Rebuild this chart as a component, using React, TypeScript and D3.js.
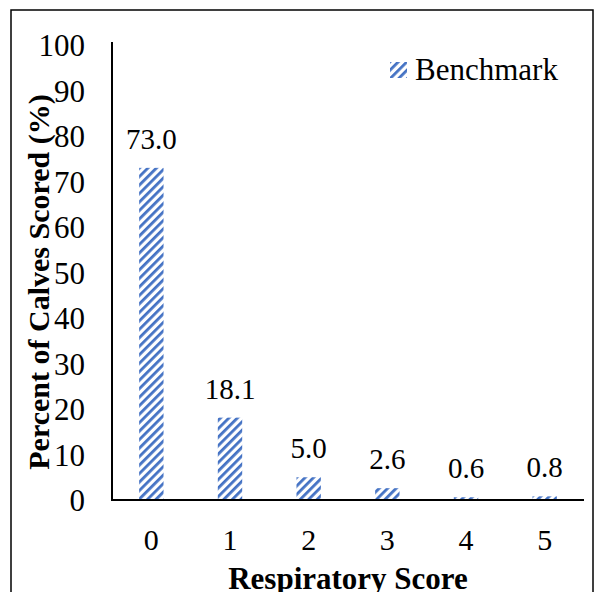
import * as React from "react";
import * as d3 from "d3";

// Respiratory score distribution, benchmark herd
const scores = ["0", "1", "2", "3", "4", "5"];
const benchmark = [73.0, 18.1, 5.0, 2.6, 0.6, 0.8];
const yTicks = [0, 10, 20, 30, 40, 50, 60, 70, 80, 90, 100];

const W = 594;
const H = 592;
const BLUE = "#4472C4";
const serif: React.CSSProperties = { fontFamily: '"Liberation Serif"' };

export default function App() {
  const x = d3
    .scaleBand<string>()
    .domain(scores)
    .range([112, 584])
    .paddingInner(0.69)
    .paddingOuter(0.345);
  const y = d3.scaleLinear().domain([0, 100]).range([500, 45]);

  return (
    <svg
      width={W}
      height={H}
      viewBox={`0 0 ${W} ${H}`}
      style={{ position: "absolute", left: 0, top: 0, background: "#fff" }}
    >
      <defs>
        <pattern
          id="wideUp"
          width={6}
          height={6}
          patternUnits="userSpaceOnUse"
          patternTransform="rotate(45)"
        >
          <rect width={6} height={6} fill="#fff" />
          <rect x={0} y={0} width={2.8} height={6} fill={BLUE} />
        </pattern>
      </defs>

      {/* outer chart frame */}
      <rect x={11} y={10} width={582} height={600} fill="none" stroke="#000" strokeWidth={1.5} />

      {/* bars */}
      {benchmark.map((v, i) => (
        <rect
          key={scores[i]}
          x={x(scores[i])}
          y={y(v)}
          width={x.bandwidth()}
          height={y(0) - y(v)}
          fill="url(#wideUp)"
        />
      ))}

      {/* value labels */}
      {benchmark.map((v, i) => (
        <text
          key={`l${i}`}
          x={(x(scores[i]) ?? 0) + x.bandwidth() / 2}
          y={y(v) - 19}
          textAnchor="middle"
          fontSize={29}
          fill="#000"
          style={serif}
        >
          {v.toFixed(1)}
        </text>
      ))}

      {/* axes lines */}
      <line x1={112} x2={112} y1={42} y2={501} stroke="#000" strokeWidth={2} />
      <line x1={111} x2={584} y1={500} y2={500} stroke="#000" strokeWidth={2} />

      {/* y tick labels */}
      {yTicks.map((t) => (
        <text key={t} x={85} y={y(t) + 11} textAnchor="end" fontSize={31} fill="#000" style={serif}>
          {t}
        </text>
      ))}

      {/* x tick labels */}
      {scores.map((s) => (
        <text
          key={s}
          x={(x(s) ?? 0) + x.bandwidth() / 2}
          y={550}
          textAnchor="middle"
          fontSize={30}
          fill="#000"
          style={serif}
        >
          {s}
        </text>
      ))}

      {/* axis titles */}
      <text x={348} y={589} textAnchor="middle" fontSize={31} fontWeight="bold" fill="#000" style={serif}>
        Respiratory Score
      </text>
      <text
        transform="translate(49,282) rotate(-90)"
        textAnchor="middle"
        fontSize={30}
        fontWeight="bold"
        fill="#000"
        style={serif}
      >
        Percent of Calves Scored (%)
      </text>

      {/* legend */}
      <rect x={390} y={62} width={17} height={16} fill="url(#wideUp)" />
      <text x={415} y={80} fontSize={31} fill="#000" style={serif}>
        Benchmark
      </text>
    </svg>
  );
}
